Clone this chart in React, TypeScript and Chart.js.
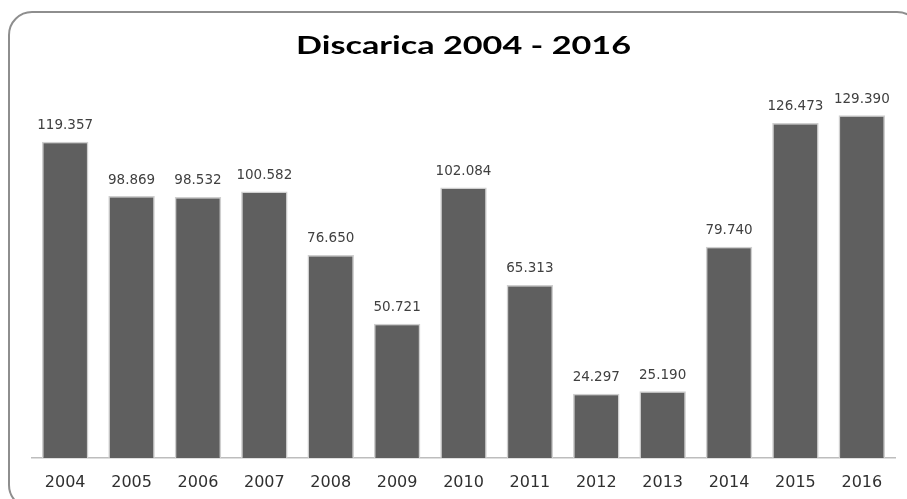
import React, { useEffect, useRef } from "react";
import { Chart, registerables } from "chart.js";

Chart.register(...registerables);

const years = ["2004", "2005", "2006", "2007", "2008", "2009", "2010", "2011", "2012", "2013", "2014", "2015", "2016"];
const tonnes = [119357, 98869, 98532, 100582, 76650, 50721, 102084, 65313, 24297, 25190, 79740, 126473, 129390];
const titleText = "Discarica 2004 - 2016";

const fmt = (v: number) => {
  const s = Math.round(v).toString();
  return s.replace(/\B(?=(\d{3})+(?!\d))/g, ".");
};

const valueLabels = {
  id: "valueLabels",
  afterDatasetsDraw(chart: any) {
    const ctx = chart.ctx;
    const meta = chart.getDatasetMeta(0);
    ctx.save();
    ctx.font = "normal 13.5px 'DejaVu Sans'";
    ctx.fillStyle = "#404040";
    ctx.textAlign = "center";
    ctx.textBaseline = "middle";
    meta.data.forEach((bar: any, i: number) => {
      ctx.fillText(fmt(tonnes[i]), bar.x, bar.y - 16);
    });
    ctx.restore();
  },
};

// Draws the title in a wide (horizontally stretched) bold face like the reference
const wideTitle = {
  id: "wideTitle",
  beforeDraw(chart: any) {
    const ctx = chart.ctx;
    const area = chart.chartArea;
    const cx = (area.left + area.right) / 2;
    ctx.save();
    ctx.font = "bold 24px Lato";
    const w = ctx.measureText(titleText).width;
    const sx = 335 / w;
    ctx.translate(cx, 46);
    ctx.scale(sx, 1);
    ctx.fillStyle = "#000000";
    ctx.textAlign = "center";
    ctx.textBaseline = "middle";
    ctx.fillText(titleText, 0, 0);
    ctx.restore();
  },
};

export default function App() {
  const ref = useRef<HTMLCanvasElement | null>(null);
  useEffect(() => {
    if (!ref.current) return;
    const chart = new Chart(ref.current, {
      type: "bar",
      data: {
        labels: years,
        datasets: [
          {
            data: tonnes,
            backgroundColor: "#5f5f5f",
            borderColor: "#cfcfcf",
            borderWidth: { left: 1.5, right: 1.5, top: 1.5, bottom: 0 },
            barPercentage: 0.7,
            categoryPercentage: 1,
          },
        ],
      },
      options: {
        animation: false,
        responsive: false,
        maintainAspectRatio: false,
        layout: { padding: { left: 32, right: 12, top: 12, bottom: 6.8 } },
        plugins: {
          legend: { display: false },
          tooltip: { enabled: false },
          title: {
            display: true,
            text: titleText,
            color: "rgba(0,0,0,0)",
            font: { family: "'DejaVu Sans'", size: 23, weight: "bold" },
            padding: { top: 19.5, bottom: 28 },
          },
        },
        scales: {
          x: {
            grid: { display: false, drawTicks: false },
            border: { display: true, color: "#bdbdbd", width: 1.5 },
            ticks: {
              color: "#303030",
              font: { family: "'DejaVu Sans'", size: 16 },
              padding: 15,
              maxRotation: 0,
            },
          },
          y: {
            display: false,
            min: 0,
            max: 140000,
          },
        },
      },
      plugins: [valueLabels, wideTitle],
    });
    return () => chart.destroy();
  }, []);

  return (
    <div style={{ position: "fixed", left: 0, top: 0, width: 907, height: 499, overflow: "hidden", background: "#ffffff" }}>
      <div
        style={{
          position: "absolute",
          left: 8,
          top: 11,
          width: 913,
          height: 498,
          border: "2px solid #8e8e8e",
          borderRadius: 24,
          boxSizing: "border-box",
        }}
      />
      <canvas ref={ref} width={907} height={514} style={{ position: "absolute", left: 0, top: 0, width: 907, height: 514 }} />
    </div>
  );
}
